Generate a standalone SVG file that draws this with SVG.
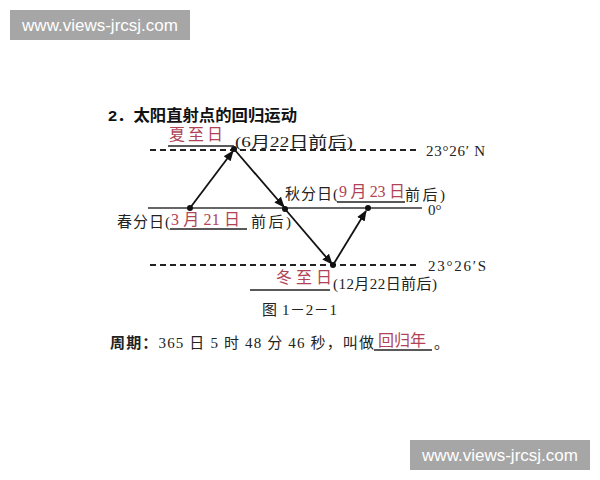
<svg xmlns="http://www.w3.org/2000/svg" width="600" height="480" viewBox="0 0 600 480">
<defs>
<style>
.wm{fill:#a6a6a6}
.wmt{font-family:"Liberation Sans","DejaVu Sans",sans-serif;font-size:17px;fill:#ffffff}
.t{font-family:"Liberation Serif","Noto Sans CJK SC",serif;font-size:15px;fill:#222}
.r{font-family:"Liberation Serif","Noto Sans CJK SC",serif;font-size:16px;fill:#b04456}
.h{font-family:"Liberation Sans","Noto Sans CJK SC",sans-serif;font-size:15.5px;font-weight:bold;fill:#111}
.dash{stroke:#222;stroke-width:2;stroke-dasharray:6,4;fill:none}
.solid{stroke:#333;stroke-width:1.5;fill:none}
.ul{stroke:#222;stroke-width:1.3}
.arr{stroke:#111;stroke-width:1.8;fill:none;marker-end:url(#ah)}
.dot{fill:#111}
</style>
<marker id="ah" viewBox="0 0 10 10" refX="9" refY="5" markerWidth="6" markerHeight="6" orient="auto" markerUnits="strokeWidth">
<path d="M0,1 L10,5 L0,9 Z" fill="#111"/>
</marker>
</defs>
<rect width="600" height="480" fill="#ffffff"/>
<g id="watermark1"><rect class="wm" x="10" y="10" width="180" height="30"/><text class="wmt" x="100" y="31" text-anchor="middle">www.views-jrcsj.com</text></g>
<g id="watermark2"><rect class="wm" x="410" y="440" width="180" height="30"/><text class="wmt" x="500" y="461" text-anchor="middle">www.views-jrcsj.com</text></g>
<g id="title"><text class="h" x="108" y="121" textLength="189" lengthAdjust="spacingAndGlyphs">2．太阳直射点的回归运动</text></g>
<g id="lines">
<line class="dash" x1="150" y1="150" x2="416" y2="150"/>
<line class="solid" x1="148" y1="208" x2="422" y2="208"/>
<line class="dash" x1="150" y1="265" x2="416" y2="265"/>
</g>
<g id="connectors">
<line class="arr" x1="190" y1="208" x2="233" y2="151"/>
<line class="arr" x1="234" y1="149" x2="284" y2="207"/>
<line class="arr" x1="285" y1="209" x2="332" y2="264"/>
<line class="arr" x1="333" y1="265" x2="366" y2="211"/>
</g>
<g id="points">
<circle class="dot" cx="190" cy="208" r="3"/>
<circle class="dot" cx="234" cy="149" r="3"/>
<circle class="dot" cx="285" cy="209" r="3"/>
<circle class="dot" cx="333" cy="265" r="3"/>
<circle class="dot" cx="368" cy="208" r="3"/>
</g>
<g id="summer">
<text class="r" x="169" y="140" textLength="54">夏至日</text>
<line class="ul" x1="168" y1="146" x2="234" y2="146"/>
<text class="t" x="235" y="147" textLength="118" lengthAdjust="spacingAndGlyphs">(6月22日前后)</text>
</g>
<g id="north"><text class="t" x="426" y="156" textLength="59">23°26′ N</text></g>
<g id="autumn">
<text class="t" x="285" y="199" textLength="53">秋分日(</text>
<text class="r" x="339" y="197" textLength="66">9 月 23 日</text>
<line class="ul" x1="337" y1="202" x2="405" y2="202"/>
<text class="t" x="405" y="200" textLength="40">前后)</text>
</g>
<g id="equator"><text class="t" x="428" y="215">0°</text></g>
<g id="spring">
<text class="t" x="117" y="227" textLength="53">春分日(</text>
<text class="r" x="171" y="225" textLength="69">3 月 21 日</text>
<line class="ul" x1="170" y1="229" x2="247" y2="229"/>
<text class="t" x="251" y="227" textLength="40">前后)</text>
</g>
<g id="south"><text class="t" x="428" y="271" textLength="58">23°26′S</text></g>
<g id="winter">
<text class="r" x="276" y="283" textLength="56">冬至日</text>
<line class="ul" x1="250" y1="290" x2="330" y2="290"/>
<text class="t" x="333" y="289" textLength="104">(12月22日前后)</text>
</g>
<g id="caption"><text class="t" x="262" y="315" textLength="75">图 1－2－1</text></g>
<g id="period">
<text class="t" x="110" y="348" font-size="16" textLength="264"><tspan font-weight="bold" font-family="Noto Sans CJK SC, sans-serif">周期：</tspan>365 日 5 时 48 分 46 秒，叫做</text>
<text class="r" x="378" y="346" textLength="48">回归年</text>
<line class="ul" x1="374" y1="350" x2="432" y2="350"/>
<text class="t" x="434" y="348">。</text>
</g>
</svg>
